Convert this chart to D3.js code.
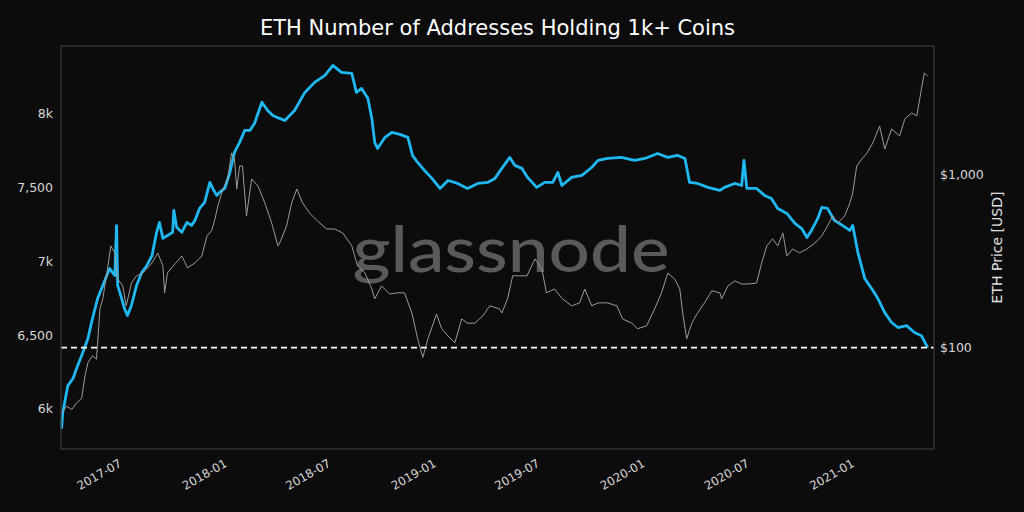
<!DOCTYPE html>
<html>
<head>
<meta charset="utf-8">
<script src="https://cdn.jsdelivr.net/npm/d3@7"></script>
<style>
	html, body { margin: 0; padding: 0; background: #0c0c0c; }
	svg { display: block; }
	text { font-family: "DejaVu Sans", sans-serif; }
</style>
</head>
<body>
<svg id="chart" width="1024" height="512"></svg>
<script>

// addresses holding 1k+ ETH (left axis)
const ADDR_DATES = ["2017-03-25","2017-03-27","2017-04-05","2017-04-14","2017-04-22","2017-05-01","2017-05-10","2017-05-18","2017-05-27","2017-06-05","2017-06-12","2017-06-17","2017-06-26","2017-06-29","2017-07-01","2017-07-08","2017-07-13","2017-07-18","2017-07-25","2017-08-03","2017-08-12","2017-08-21","2017-08-30","2017-09-07","2017-09-12","2017-09-18","2017-09-26","2017-10-05","2017-10-07","2017-10-12","2017-10-21","2017-10-30","2017-11-07","2017-11-13","2017-11-21","2017-11-30","2017-12-09","2017-12-14","2017-12-21","2017-12-26","2018-01-04","2018-01-13","2018-01-21","2018-01-30","2018-02-08","2018-02-17","2018-02-25","2018-03-10","2018-03-20","2018-03-29","2018-04-10","2018-04-19","2018-05-06","2018-05-24","2018-06-10","2018-06-28","2018-07-12","2018-07-27","2018-08-14","2018-08-22","2018-08-31","2018-09-11","2018-09-18","2018-09-23","2018-09-28","2018-10-11","2018-10-23","2018-11-06","2018-11-20","2018-11-28","2018-12-07","2018-12-19","2019-01-01","2019-01-15","2019-01-29","2019-02-15","2019-03-04","2019-03-22","2019-04-08","2019-04-21","2019-05-03","2019-05-17","2019-05-26","2019-06-07","2019-06-17","2019-07-03","2019-07-17","2019-07-31","2019-08-09","2019-08-16","2019-09-02","2019-09-20","2019-10-07","2019-10-18","2019-11-04","2019-11-28","2019-12-21","2020-01-08","2020-01-30","2020-02-17","2020-03-05","2020-03-18","2020-03-26","2020-04-09","2020-04-27","2020-05-18","2020-05-26","2020-06-13","2020-06-25","2020-06-29","2020-07-04","2020-07-21","2020-08-04","2020-08-16","2020-08-27","2020-09-12","2020-09-26","2020-10-08","2020-10-17","2020-10-25","2020-11-05","2020-11-12","2020-11-22","2020-12-04","2020-12-18","2020-12-31","2021-01-05","2021-01-14","2021-01-26","2021-02-07","2021-02-18","2021-03-02","2021-03-14","2021-03-25","2021-04-09","2021-04-23","2021-05-05","2021-05-16"];
const ADDR_VALUES = [5867,5975,6158,6206,6293,6381,6476,6612,6747,6836,6903,6950,6903,7241,6836,6747,6679,6632,6700,6836,6923,6971,7038,7195,7262,7154,7174,7195,7344,7229,7195,7262,7242,7276,7357,7398,7533,7492,7445,7465,7492,7600,7736,7804,7885,7885,7932,8075,8020,7986,7966,7952,8020,8142,8210,8257,8325,8278,8271,8142,8169,8102,7966,7804,7763,7838,7871,7858,7838,7716,7668,7614,7560,7492,7546,7526,7492,7526,7533,7560,7628,7702,7648,7628,7567,7499,7533,7533,7600,7512,7567,7580,7634,7682,7695,7702,7682,7695,7729,7702,7716,7695,7533,7526,7499,7479,7499,7526,7512,7682,7492,7492,7445,7424,7357,7323,7255,7221,7160,7208,7289,7364,7357,7276,7242,7208,7242,7059,6883,6815,6747,6652,6585,6551,6564,6517,6496,6415];

// ETH price in USD (right axis, log)
const PRICE_DATES = ["2017-03-25","2017-04-03","2017-04-12","2017-04-20","2017-04-29","2017-05-05","2017-05-10","2017-05-18","2017-05-25","2017-05-31","2017-06-05","2017-06-14","2017-06-19","2017-06-26","2017-07-01","2017-07-10","2017-07-16","2017-07-25","2017-08-03","2017-08-14","2017-08-30","2017-09-09","2017-09-18","2017-09-21","2017-09-26","2017-10-09","2017-10-21","2017-10-31","2017-11-13","2017-11-25","2017-12-04","2017-12-12","2017-12-18","2017-12-23","2018-01-01","2018-01-09","2018-01-16","2018-01-21","2018-01-25","2018-01-30","2018-02-04","2018-02-11","2018-02-20","2018-03-03","2018-03-15","2018-03-27","2018-04-07","2018-04-10","2018-04-22","2018-05-01","2018-05-10","2018-05-20","2018-06-01","2018-06-15","2018-07-01","2018-07-15","2018-07-29","2018-08-14","2018-08-24","2018-09-06","2018-09-18","2018-09-23","2018-10-05","2018-10-19","2018-11-02","2018-11-14","2018-11-27","2018-12-07","2018-12-16","2018-12-25","2019-01-09","2019-01-18","2019-01-29","2019-02-10","2019-02-22","2019-03-04","2019-03-17","2019-03-31","2019-04-12","2019-04-29","2019-05-03","2019-05-13","2019-05-22","2019-06-03","2019-06-16","2019-06-30","2019-07-12","2019-07-20","2019-08-03","2019-08-17","2019-09-02","2019-09-16","2019-09-25","2019-10-07","2019-10-18","2019-11-04","2019-11-20","2019-11-30","2019-12-16","2019-12-26","2020-01-11","2020-01-25","2020-02-06","2020-02-17","2020-02-29","2020-03-09","2020-03-14","2020-03-21","2020-03-30","2020-04-09","2020-04-21","2020-05-04","2020-05-18","2020-05-21","2020-06-01","2020-06-13","2020-06-25","2020-07-06","2020-07-21","2020-07-30","2020-08-08","2020-08-18","2020-08-27","2020-09-05","2020-09-12","2020-09-22","2020-10-04","2020-10-17","2020-10-31","2020-11-12","2020-11-22","2020-12-01","2020-12-10","2020-12-22","2020-12-31","2021-01-05","2021-01-12","2021-01-21","2021-01-30","2021-02-09","2021-02-21","2021-03-02","2021-03-14","2021-03-28","2021-04-06","2021-04-18","2021-04-27","2021-05-05","2021-05-10","2021-05-16"];
const PRICE_VALUES = [42,46,44,48,51,69,82,90,86,168,192,298,389,354,250,228,175,237,261,271,310,354,298,208,271,306,340,290,310,340,444,475,557,662,830,948,1340,1236,830,1127,1127,579,948,864,689,528,389,404,507,689,830,689,603,542,487,487,462,389,298,271,219,192,228,205,208,208,159,113,88,113,157,129,117,107,147,139,139,153,175,168,159,192,261,261,261,327,286,208,219,192,175,182,219,175,182,182,175,147,139,129,134,168,208,271,250,219,159,113,139,159,182,214,208,192,228,244,234,234,237,310,389,427,389,462,340,373,354,373,404,444,507,579,528,579,689,787,1127,1236,1340,1530,1920,1413,1845,1680,2108,2282,2193,3140,3890,3733];

const X_DOMAIN = ["2017-03-24", "2021-05-27"];
const X_TICKS = ["2017-07", "2018-01", "2018-07", "2019-01", "2019-07", "2020-01", "2020-07", "2021-01"];
const Y_TICKS = [6000, 6500, 7000, 7500, 8000];
const Y_TICK_LABELS = ["6k", "6,500", "7k", "7,500", "8k"];
const Y_DOMAIN = [5729, 8456];
const PRICE_TICKS = [100, 1000];
const PRICE_TICK_LABELS = ["$100", "$1,000"];
const PRICE_DOMAIN = [26, 5570];

const TITLE = "ETH Number of Addresses Holding 1k+ Coins";
const PRICE_LABEL = "ETH Price [USD]";

const MARGIN = { top: 46, right: 90, bottom: 63, left: 61 };

function whenDocumentLoaded(action) {
	if (document.readyState === "loading") {
		document.addEventListener("DOMContentLoaded", action);
	} else {
		action();
	}
}

function drawChart() {
	const svg = d3.select("#chart");
	const width = +svg.attr("width");
	const height = +svg.attr("height");
	const parse = d3.utcParse("%Y-%m-%d");
	const parseMonth = d3.utcParse("%Y-%m");

	const left = MARGIN.left, right = width - MARGIN.right;
	const top = MARGIN.top, bottom = height - MARGIN.bottom;

	const x = d3.scaleUtc().domain(X_DOMAIN.map(parse)).range([left, right]);
	const y = d3.scaleLinear().domain(Y_DOMAIN).range([bottom, top]);
	const yPrice = d3.scaleLog().domain(PRICE_DOMAIN).range([bottom, top]);

	const addr = ADDR_DATES.map((d, i) => ({ date: parse(d), value: ADDR_VALUES[i] }));
	const price = PRICE_DATES.map((d, i) => ({ date: parse(d), value: PRICE_VALUES[i] }));

	svg.append("rect")
		.attr("width", width).attr("height", height)
		.attr("fill", "#0c0c0c");

	// watermark
	svg.append("text")
		.attr("x", 511)
		.attr("y", 272)
		.attr("text-anchor", "middle")
		.attr("textLength", 317)
		.attr("lengthAdjust", "spacingAndGlyphs")
		.style("font-family", "Lato, 'Open Sans', sans-serif")
		.style("font-size", "63px")
		.style("font-weight", 500)
		.attr("fill", "#5a5a5a")
		.text("glassnode");

	// title
	svg.append("text")
		.attr("x", (left + right) / 2)
		.attr("y", 35)
		.attr("text-anchor", "middle")
		.attr("fill", "#ffffff")
		.style("font-size", "21px")
		.text(TITLE);

	// left axis
	const yAxis = d3.axisLeft(y)
		.tickValues(Y_TICKS)
		.tickSize(0)
		.tickPadding(8)
		.tickFormat((d, i) => Y_TICK_LABELS[i]);
	const gy = svg.append("g")
		.attr("transform", `translate(${left},0)`)
		.call(yAxis);
	gy.select(".domain").remove();
	gy.selectAll("text")
		.attr("fill", "#d8d8d8")
		.style("font-size", "12.5px")
		.style("font-family", "'DejaVu Sans', sans-serif");

	// right axis (price)
	const priceAxis = d3.axisRight(yPrice)
		.tickValues(PRICE_TICKS)
		.tickSize(0)
		.tickPadding(6)
		.tickFormat((d, i) => PRICE_TICK_LABELS[i]);
	const gp = svg.append("g")
		.attr("transform", `translate(${right},0)`)
		.call(priceAxis);
	gp.select(".domain").remove();
	gp.selectAll("text")
		.attr("fill", "#d8d8d8")
		.style("font-size", "12.5px")
		.style("font-family", "'DejaVu Sans', sans-serif");

	svg.append("text")
		.attr("transform", `translate(${right + 63},${(top + bottom) / 2}) rotate(-90)`)
		.attr("text-anchor", "middle")
		.attr("dy", "0.35em")
		.attr("fill", "#e0e0e0")
		.style("font-size", "14px")
		.text(PRICE_LABEL);

	// bottom axis
	const xAxis = d3.axisBottom(x)
		.tickValues(X_TICKS.map(parseMonth))
		.tickSize(0)
		.tickFormat(d3.utcFormat("%Y-%m"));
	const gx = svg.append("g")
		.attr("transform", `translate(0,${bottom})`)
		.call(xAxis);
	gx.select(".domain").remove();
	gx.selectAll("text")
		.attr("fill", "#d8d8d8")
		.attr("y", 0)
		.attr("dy", "0.75em")
		.attr("text-anchor", "end")
		.attr("transform", "translate(0,9) rotate(-30)")
		.style("font-size", "11.8px")
		.style("font-family", "'DejaVu Sans', sans-serif");

	// lines
	const addrLine = d3.line()
		.x(d => x(d.date))
		.y(d => y(d.value));
	const priceLine = d3.line()
		.x(d => x(d.date))
		.y(d => yPrice(d.value));

	svg.append("path")
		.datum(addr)
		.attr("fill", "none")
		.attr("stroke", "#1fb8f1")
		.attr("stroke-width", 2.8)
		.attr("stroke-linejoin", "round")
		.attr("d", addrLine);

	svg.append("path")
		.datum(price)
		.attr("fill", "none")
		.attr("stroke", "#9a9a9a")
		.attr("stroke-width", 1)
		.attr("stroke-linejoin", "round")
		.attr("d", priceLine);

	// current level
	const last = ADDR_VALUES[ADDR_VALUES.length - 1];
	svg.append("line")
		.attr("x1", left).attr("x2", right)
		.attr("y1", y(last)).attr("y2", y(last))
		.attr("stroke", "#ffffff")
		.attr("stroke-width", 1.6)
		.attr("stroke-dasharray", "6,4");

	// frame
	svg.append("rect")
		.attr("x", left).attr("y", top)
		.attr("width", right - left).attr("height", bottom - top)
		.attr("fill", "none")
		.attr("stroke", "#3c3c3c")
		.attr("stroke-width", 1.2);
}

whenDocumentLoaded(drawChart);
</script>
</body>
</html>
